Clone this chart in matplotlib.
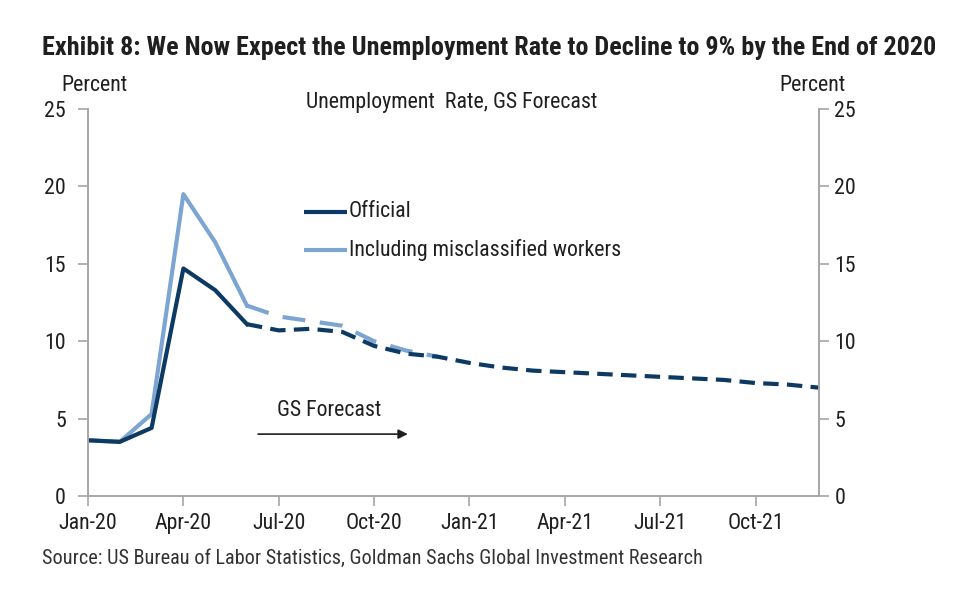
import numpy as np
import matplotlib.pyplot as plt

plt.rcParams['font.family'] = ['Roboto Condensed', 'Liberation Sans Narrow', 'Liberation Sans', 'DejaVu Sans']

# monthly categories Jan-20 .. Dec-21
months = ['Jan-20', 'Feb-20', 'Mar-20', 'Apr-20', 'May-20', 'Jun-20',
          'Jul-20', 'Aug-20', 'Sep-20', 'Oct-20', 'Nov-20', 'Dec-20',
          'Jan-21', 'Feb-21', 'Mar-21', 'Apr-21', 'May-21', 'Jun-21',
          'Jul-21', 'Aug-21', 'Sep-21', 'Oct-21', 'Nov-21', 'Dec-21']

# official unemployment rate (actual to Jun-20, then GS forecast)
official = [3.6, 3.5, 4.4, 14.7, 13.3, 11.1,
            10.7, 10.8, 10.6, 9.7, 9.2, 9.0,
            8.6, 8.3, 8.1, 8.0, 7.9, 7.8,
            7.7, 7.6, 7.5, 7.3, 7.2, 7.0]

# including misclassified workers (to Dec-20)
misclass = [3.6, 3.5, 5.3, 19.5, 16.4, 12.3,
            11.6, 11.3, 11.0, 10.0, 9.4, 9.0]

n_actual = 6  # Jan-Jun 2020 actual

dark = '#0d3a63'
light = '#7da5d2'
gray = '#a6a6a6'
txt = '#1f1f1f'

fig = plt.figure(figsize=(9.6, 6), dpi=100)
ax = fig.add_axes([0.0917, 0.1733, 0.7615, 0.645])
renderer = fig.canvas.get_renderer()


def fit_width(t, width_px):
    # shrink/grow a text so it spans the given pixel width
    w = t.get_window_extent(renderer).width
    t.set_fontsize(t.get_fontsize() * width_px / w)
    return t.get_fontsize()


title = fig.text(0.044, 0.92, 'Exhibit 8: We Now Expect the Unemployment Rate to Decline to 9% by the End of 2020',
                 fontsize=16, fontweight='bold', color=txt, va='center')
fit_width(title, 893)
source = fig.text(0.044, 0.07, 'Source: US Bureau of Labor Statistics, Goldman Sachs Global Investment Research',
                  fontsize=13, color='#333333', va='center')
fit_width(source, 656)

# chart text sized from the legend label width
probe = fig.text(0, 0, 'Including misclassified workers', fontsize=13)
fs = fit_width(probe, 271)
probe.remove()

x = np.arange(len(months))
xm = np.arange(len(misclass))

# light series first so dark sits on top
ax.plot(xm[:n_actual], misclass[:n_actual], color=light, lw=3, solid_joinstyle='round')
ax.plot(xm[n_actual - 1:], misclass[n_actual - 1:], color=light, lw=3, dashes=(5.5, 3.5))
ax.plot(x[:n_actual], official[:n_actual], color=dark, lw=3, solid_joinstyle='round')
ax.plot(x[n_actual - 1:], official[n_actual - 1:], color=dark, lw=3, dashes=(3.7, 2))

ax.set_xlim(0, 23)
ax.set_ylim(0, 25)
ax.set_xticks(x[::3])
ax.set_xticklabels(months[::3])
ax.set_yticks(range(0, 26, 5))

for s in ['left', 'right', 'bottom']:
    ax.spines[s].set_color(gray)
    ax.spines[s].set_linewidth(1.2)
ax.spines['top'].set_visible(False)
ax.tick_params(axis='both', colors=gray, labelcolor=txt, labelsize=fs,
               length=7, width=1.2, direction='out')
ax.tick_params(axis='y', pad=9)
ax.tick_params(axis='x', pad=5)

ax2 = ax.twinx()
ax2.set_ylim(0, 25)
ax2.set_yticks(range(0, 26, 5))
ax2.spines['top'].set_visible(False)
for s in ['left', 'right', 'bottom']:
    ax2.spines[s].set_color(gray)
    ax2.spines[s].set_linewidth(1.2)
ax2.tick_params(axis='y', colors=gray, labelcolor=txt, labelsize=fs,
                length=7, width=1.2, direction='out', pad=4)

# legend drawn by hand
ax.plot([6.8, 8.15], [18.35, 18.35], color=dark, lw=3, solid_capstyle='butt')
ax.plot([6.8, 8.15], [15.9, 15.9], color=light, lw=3, solid_capstyle='butt')
ax.text(8.2, 18.35, 'Official', fontsize=fs, va='center', color=txt)
ax.text(8.2, 15.9, 'Including misclassified workers', fontsize=fs, va='center', color=txt)

ax.text(11.45, 25.4, 'Unemployment  Rate, GS Forecast', fontsize=fs, ha='center',
        va='center', color=txt)
ax.text(7.6, 5.5, 'GS Forecast', fontsize=fs, ha='center', va='center', color=txt)
ax.annotate('', xy=(10.06, 4.0), xytext=(5.35, 4.0),
            arrowprops=dict(arrowstyle='-|>', color=txt, lw=1.2,
                            mutation_scale=14, shrinkA=0, shrinkB=0))

fig.text(0.064, 0.858, 'Percent', fontsize=fs, color=txt, va='center')
fig.text(0.881, 0.858, 'Percent', fontsize=fs, color=txt, va='center', ha='right')

fig.savefig('out.png', dpi=100, facecolor='white')
